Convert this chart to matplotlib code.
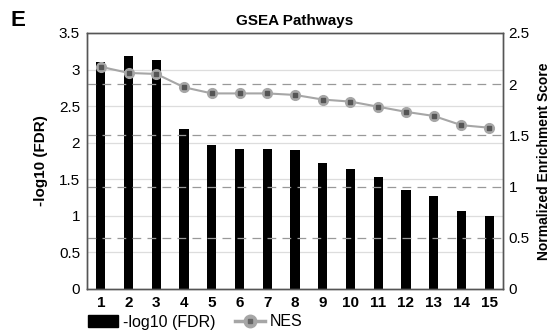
import matplotlib
matplotlib.use("Agg")
import matplotlib.pyplot as plt
from matplotlib.lines import Line2D
from matplotlib.patches import Patch

pathways = list(range(1, 16))
neg_log_fdr = [3.11, 3.19, 3.13, 2.19, 1.97, 1.92, 1.91, 1.90, 1.72, 1.64, 1.53, 1.36, 1.27, 1.07, 1.00]
nes = [2.17, 2.11, 2.10, 1.97, 1.91, 1.91, 1.91, 1.895, 1.85, 1.83, 1.78, 1.73, 1.69, 1.60, 1.575]
left_ticks = [0, 0.5, 1, 1.5, 2, 2.5, 3, 3.5]
right_ticks = [0, 0.5, 1, 1.5, 2, 2.5]

plt.rcParams['font.family'] = ['Liberation Sans', 'DejaVu Sans']

W, H = 551, 332
fig = plt.figure(figsize=(W / 100, H / 100), dpi=100)
ax = fig.add_axes([87 / W, 1 - 289 / H, 416 / W, 256 / H])
ax2 = ax.twinx()

spine_col = '#555555'
for a in (ax, ax2):
    for s in a.spines.values():
        s.set_color(spine_col)
        s.set_linewidth(1.0)

ax.set_ylim(0, 3.5)
ax2.set_ylim(0, 2.5)
ax.set_xlim(0.5, 15.5)

# solid grid on the left scale
for t in left_ticks[1:-1]:
    ax.axhline(t, color='#dddddd', lw=0.9, zorder=0)
# dashed grid on the right scale
for t in right_ticks[1:-1]:
    ax2.axhline(t, color='#999999', lw=0.9, ls=(0, (7, 5)), zorder=0)

ax.bar(pathways, neg_log_fdr, width=0.33, color='black', zorder=2)
ax.patch.set_visible(False)

ax2.plot(pathways, nes, color='#a6a6a6', lw=1.5, marker='o', ms=7,
         markerfacecolor='#a6a6a6', markeredgecolor='#a6a6a6', zorder=3)
ax2.plot(pathways, nes, ls='none', marker='s', ms=2.5,
         markerfacecolor='#555555', markeredgecolor='#555555', zorder=4)
ax2.patch.set_visible(False)

ax.set_yticks(left_ticks)
ax.set_yticklabels([f"{t:g}" for t in left_ticks], fontsize=11)
ax2.set_yticks(right_ticks)
ax2.set_yticklabels([f"{t:g}" for t in right_ticks], fontsize=11)
ax.set_xticks(pathways)
ax.set_xticklabels([str(p) for p in pathways], fontsize=11, fontweight='bold')
ax.tick_params(axis='y', length=0, pad=5)
ax2.tick_params(axis='y', length=0, pad=4)
ax.tick_params(axis='x', length=0, pad=5)

ax.set_ylabel('-log10 (FDR)', fontsize=11, fontweight='bold')
ax.yaxis.set_label_coords((48 - 87) / 416, 0.5)
ax2.set_ylabel('Normalized Enrichment Score', fontsize=10, fontweight='bold',
               rotation=90, va='center')
ax2.yaxis.set_label_coords((544 - 87) / 416, 0.5)
ax.set_title('GSEA Pathways', fontsize=11, fontweight='bold', pad=6)

fig.text(11 / W, 1 - 21 / H, 'E', fontsize=16, fontweight='bold', va='center', ha='left')

bar_handle = Patch(facecolor='black', edgecolor='black')
nes_handle = (Line2D([0], [0], color='#a6a6a6', lw=2.5, marker='o', ms=9,
                     markerfacecolor='#a6a6a6', markeredgecolor='#a6a6a6'),
              Line2D([0], [0], ls='none', marker='s', ms=3.5,
                     markerfacecolor='#666666', markeredgecolor='#666666'))
fig.legend([bar_handle, nes_handle], ['-log10 (FDR)', 'NES'], loc='center left',
           bbox_to_anchor=(88 / W, 1 - 322 / H), ncol=2, frameon=False,
           fontsize=11.5, handlelength=1.9, handleheight=0.7,
           columnspacing=1.2, handletextpad=0.3, borderaxespad=0, borderpad=0)

fig.savefig('out.png', dpi=100)
